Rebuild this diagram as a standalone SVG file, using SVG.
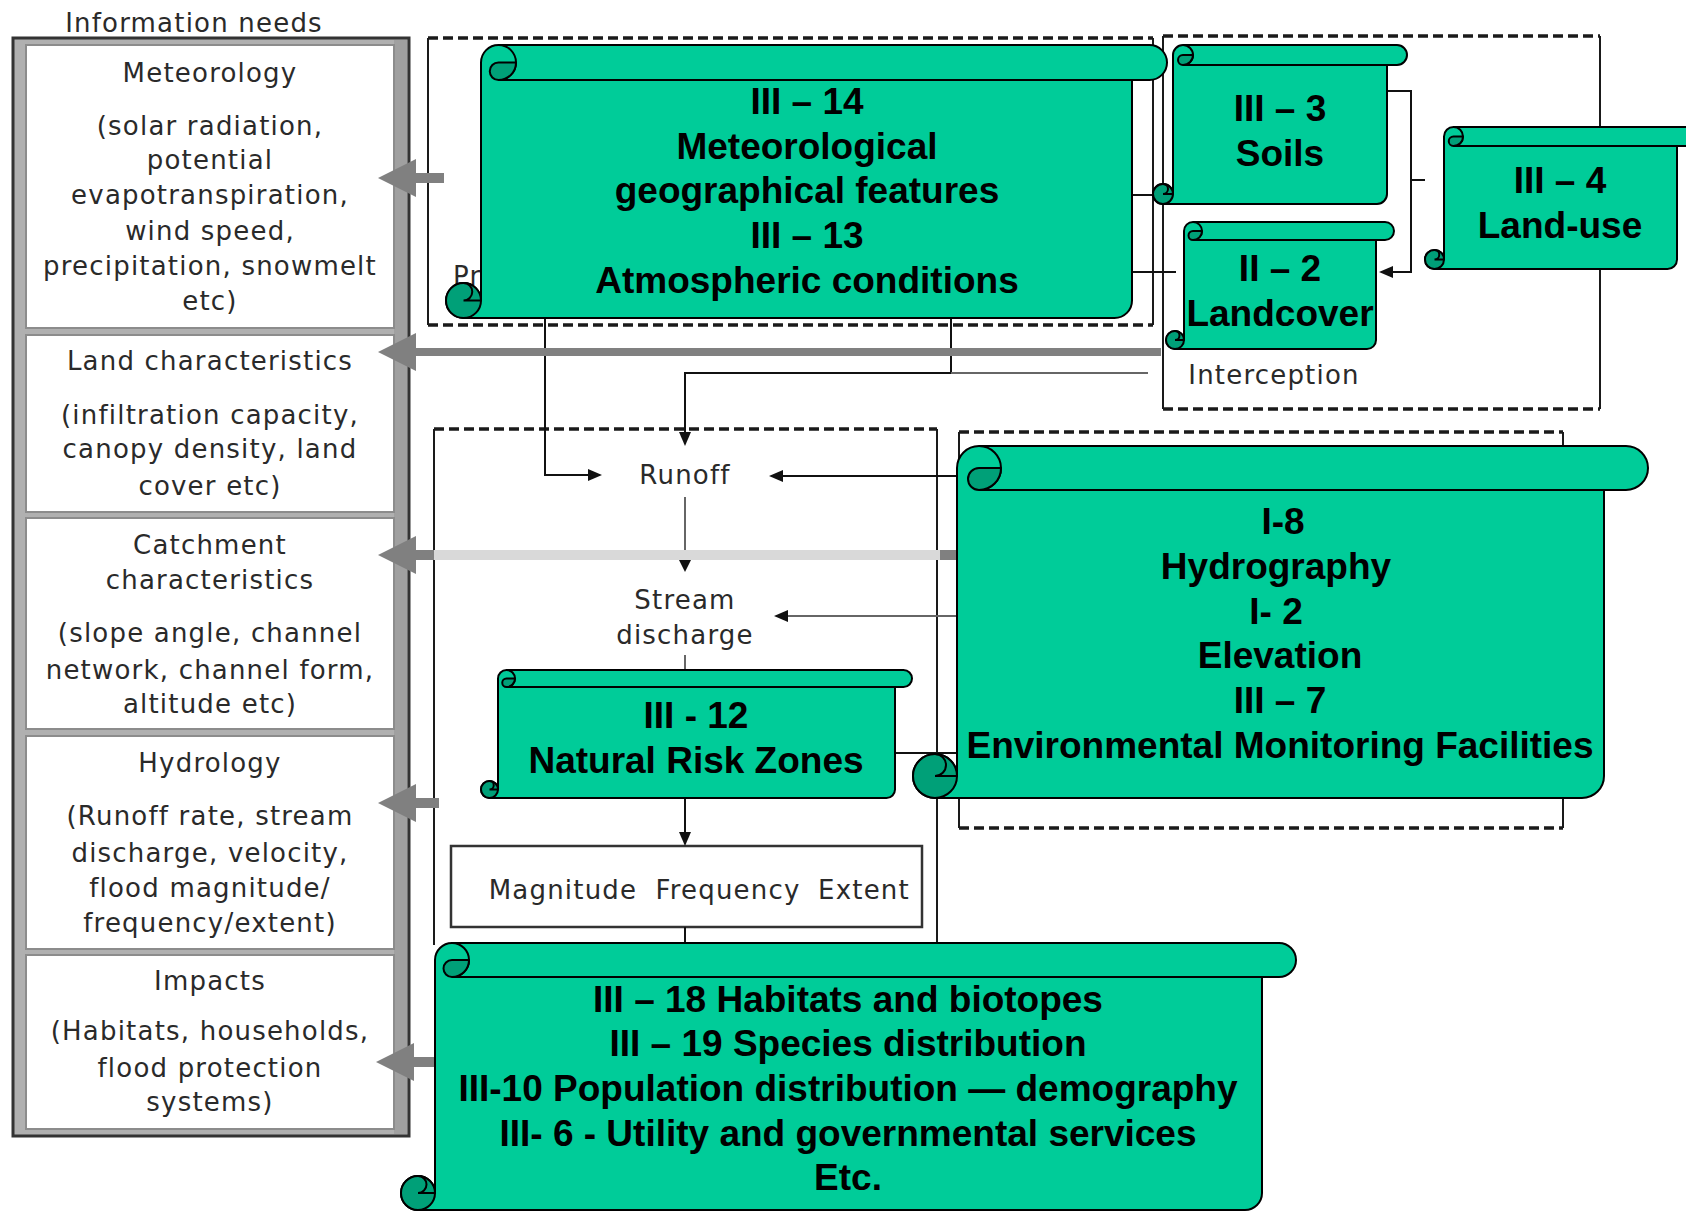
<svg xmlns="http://www.w3.org/2000/svg" width="1686" height="1211" viewBox="0 0 1686 1211">
<defs>
<style>
.pt{font-family:"DejaVu Sans","Verdana",sans-serif;font-size:26px;fill:#2a2a2a;text-anchor:middle;letter-spacing:1.2px}
.st{font-family:"Liberation Sans",Arial,sans-serif;font-size:37px;font-weight:bold;fill:#000;text-anchor:middle}
.body{fill:#00CC99;stroke:#000;stroke-width:2;stroke-linejoin:round}
.ln{fill:none;stroke:#000;stroke-width:2}
.dk{fill:#00A078;stroke:#000;stroke-width:2;stroke-linejoin:round}
.dash{fill:none;stroke:#1a1a1a;stroke-width:3.5;stroke-dasharray:10 5}
.side{fill:none;stroke:#1a1a1a;stroke-width:2}
.con{fill:none;stroke:#111;stroke-width:2}
.gcon{fill:none;stroke:#666;stroke-width:2}
.ah{fill:#111}
.ga{fill:#808080}
.wb{fill:#fff;stroke:#8c8c8c;stroke-width:2}
</style>
</defs>
<rect width="1686" height="1211" fill="#fff"/>

<g id="info-needs">
<text class="pt" x="194" y="32">Information needs</text>
<rect x="13" y="38" width="396" height="1098" fill="#b0b0b0" stroke="#333" stroke-width="3"/>
<rect x="394" y="40" width="13" height="1094" fill="#a0a0a0"/>
</g>

<g id="meteorology">
<rect class="wb" x="26" y="45" width="368" height="283"/>
<text class="pt" x="210" y="82">Meteorology</text>
<text class="pt" x="210" y="135">(solar radiation,</text>
<text class="pt" x="210" y="169">potential</text>
<text class="pt" x="210" y="204">evapotranspiration,</text>
<text class="pt" x="210" y="240">wind speed,</text>
<text class="pt" x="210" y="275">precipitation, snowmelt</text>
<text class="pt" x="210" y="310">etc)</text>
</g>

<g id="land-characteristics">
<rect class="wb" x="26" y="335" width="368" height="177"/>
<text class="pt" x="210" y="370">Land characteristics</text>
<text class="pt" x="210" y="424">(infiltration capacity,</text>
<text class="pt" x="210" y="458">canopy density, land</text>
<text class="pt" x="210" y="495">cover etc)</text>
</g>

<g id="catchment-characteristics">
<rect class="wb" x="26" y="518" width="368" height="211"/>
<text class="pt" x="210" y="554">Catchment</text>
<text class="pt" x="210" y="589">characteristics</text>
<text class="pt" x="210" y="642">(slope angle, channel</text>
<text class="pt" x="210" y="679">network, channel form,</text>
<text class="pt" x="210" y="713">altitude etc)</text>
</g>

<g id="hydrology">
<rect class="wb" x="26" y="736" width="368" height="213"/>
<text class="pt" x="210" y="772">Hydrology</text>
<text class="pt" x="210" y="825">(Runoff rate, stream</text>
<text class="pt" x="210" y="862">discharge, velocity,</text>
<text class="pt" x="210" y="897">flood magnitude/</text>
<text class="pt" x="210" y="932">frequency/extent)</text>
</g>

<g id="impacts">
<rect class="wb" x="26" y="955" width="368" height="174"/>
<text class="pt" x="210" y="990">Impacts</text>
<text class="pt" x="210" y="1040">(Habitats, households,</text>
<text class="pt" x="210" y="1077">flood protection</text>
<text class="pt" x="210" y="1111">systems)</text>
</g>

<g id="group-boxes">
<path class="dash" d="M428,38 H1153 M428,325 H1153"/>
<path class="side" d="M428,38 V325 M1153,38 V325"/>
<path class="dash" d="M1163,36 H1600 M1163,409 H1600"/>
<path class="side" d="M1163,36 V409 M1600,36 V409"/>
<path class="dash" d="M434,429 H937"/>
<path class="side" d="M434,429 V945 M937,429 V945"/>
<path class="dash" d="M959,432 H1563 M959,828 H1563"/>
<path class="side" d="M959,432 V828 M1563,432 V828"/>
</g>

<g id="process-labels">
<text class="pt" x="453" y="285" style="text-anchor:start">Pr</text>
<text class="pt" x="1274" y="384">Interception</text>
<text class="pt" x="685" y="484">Runoff</text>
<text class="pt" x="685" y="609">Stream</text>
<text class="pt" x="685" y="644">discharge</text>
</g>

<g id="magnitude-box">
<rect x="451" y="846" width="471" height="81" fill="#fff" stroke="#333" stroke-width="2.5"/>
<text class="pt" x="563" y="899">Magnitude</text>
<text class="pt" x="728" y="899">Frequency</text>
<text class="pt" x="864" y="899">Extent</text>
</g>

<g id="connectors">
<path class="con" d="M545,318 V475 H590"/>
<polygon class="ah" points="602,475 588,469 588,481"/>
<path class="con" d="M951,318 V373 H685 V434"/>
<polygon class="ah" points="685,446 679,432 691,432"/>
<path class="gcon" d="M951,373 H1148"/>
<path class="con" d="M957,476 H781"/>
<polygon class="ah" points="769,476 783,470 783,482"/>
<path class="gcon" d="M685,497 V560"/>
<polygon class="ah" points="685,572 679,560 691,560"/>
<path class="gcon" d="M957,616 H786"/>
<polygon class="ah" points="774,616 788,610 788,622"/>
<path class="gcon" d="M685,655 V672"/>
<path class="con" d="M685,798 V834"/>
<polygon class="ah" points="685,846 679,832 691,832"/>
<path class="con" d="M895,753 H957"/>
<path class="con" d="M685,927 V945"/>
<path class="con" d="M1387,91 H1411 V272 H1391"/>
<polygon class="ah" points="1379,272 1393,266 1393,278"/>
<path class="con" d="M1425,180 H1411"/>
<path class="con" d="M1132,195 H1163"/>
<path class="con" d="M1132,272 H1176"/>
</g>

<g id="info-arrows">
<rect class="ga" x="412" y="173" width="32" height="10"/>
<polygon class="ga" points="378,178 416,159 416,197"/>
<rect class="ga" x="412" y="348" width="749" height="8"/>
<polygon class="ga" points="378,352 416,333 416,371"/>
<rect x="432" y="550" width="508" height="10" fill="#d9d9d9"/>
<rect class="ga" x="412" y="550" width="22" height="10"/>
<rect class="ga" x="940" y="550" width="17" height="10"/>
<polygon class="ga" points="378,555 416,536 416,574"/>
<rect class="ga" x="412" y="798" width="27" height="10"/>
<polygon class="ga" points="378,803 416,784 416,822"/>
<rect class="ga" x="412" y="1057" width="24" height="10"/>
<polygon class="ga" points="376,1062 414,1043 414,1081"/>
</g>

<g id="scroll-III-14">
<path class="body" d="M481,62.5 A17.5,17.5 0 0 1 498.5,45 L1149.5,45 A17.5,17.5 0 0 1 1149.5,80 L1132,80 L1132,300.5 A17.5,17.5 0 0 1 1114.5,318 L463.5,318 A17.5,17.5 0 0 1 463.5,283 A17.5,17.5 0 0 1 481,300.5 Z"/>
<path class="ln" d="M498.5,80 L1132,80 M498.5,45 A17.5,17.5 0 0 1 498.5,80"/>
<path class="dk" d="M498.5,62.5 L516,62.5 A17.5,17.5 0 0 1 498.5,80 A8.75,8.75 0 0 1 498.5,62.5 Z"/>
<circle class="dk" cx="463.5" cy="300.5" r="17.5"/>
<path class="ln" d="M463.5,283 A8.75,8.75 0 0 1 463.5,300.5 L481,300.5"/>
<text class="st" x="807" y="114">III – 14</text>
<text class="st" x="807" y="159">Meteorological</text>
<text class="st" x="807" y="203">geographical features</text>
<text class="st" x="807" y="248">III – 13</text>
<text class="st" x="807" y="293">Atmospheric conditions</text>
</g>

<g id="scroll-III-3">
<path class="body" d="M1173,55 A10,10 0 0 1 1183,45 L1397,45 A10,10 0 0 1 1397,65 L1387,65 L1387,194 A10,10 0 0 1 1377,204 L1163,204 A10,10 0 0 1 1163,184 A10,10 0 0 1 1173,194 Z"/>
<path class="ln" d="M1183,65 L1387,65 M1183,45 A10,10 0 0 1 1183,65"/>
<path class="dk" d="M1183,55 L1193,55 A10,10 0 0 1 1183,65 A5,5 0 0 1 1183,55 Z"/>
<circle class="dk" cx="1163" cy="194" r="10"/>
<path class="ln" d="M1163,184 A5,5 0 0 1 1163,194 L1173,194"/>
<text class="st" x="1280" y="121">III – 3</text>
<text class="st" x="1280" y="166">Soils</text>
</g>

<g id="scroll-III-4">
<path class="body" d="M1444,136.5 A9.5,9.5 0 0 1 1453.5,127 L1686.5,127 A9.5,9.5 0 0 1 1686.5,146 L1677,146 L1677,259.5 A9.5,9.5 0 0 1 1667.5,269 L1434.5,269 A9.5,9.5 0 0 1 1434.5,250 A9.5,9.5 0 0 1 1444,259.5 Z"/>
<path class="ln" d="M1453.5,146 L1677,146 M1453.5,127 A9.5,9.5 0 0 1 1453.5,146"/>
<path class="dk" d="M1453.5,136.5 L1463,136.5 A9.5,9.5 0 0 1 1453.5,146 A4.75,4.75 0 0 1 1453.5,136.5 Z"/>
<circle class="dk" cx="1434.5" cy="259.5" r="9.5"/>
<path class="ln" d="M1434.5,250 A4.75,4.75 0 0 1 1434.5,259.5 L1444,259.5"/>
<text class="st" x="1560" y="193">III – 4</text>
<text class="st" x="1560" y="238">Land-use</text>
</g>

<g id="scroll-II-2">
<path class="body" d="M1184,231 A9,9 0 0 1 1193,222 L1385,222 A9,9 0 0 1 1385,240 L1376,240 L1376,340 A9,9 0 0 1 1367,349 L1175,349 A9,9 0 0 1 1175,331 A9,9 0 0 1 1184,340 Z"/>
<path class="ln" d="M1193,240 L1376,240 M1193,222 A9,9 0 0 1 1193,240"/>
<path class="dk" d="M1193,231 L1202,231 A9,9 0 0 1 1193,240 A4.5,4.5 0 0 1 1193,231 Z"/>
<circle class="dk" cx="1175" cy="340" r="9"/>
<path class="ln" d="M1175,331 A4.5,4.5 0 0 1 1175,340 L1184,340"/>
<text class="st" x="1280" y="281">II – 2</text>
<text class="st" x="1280" y="326">Landcover</text>
</g>

<g id="scroll-I-8">
<path class="body" d="M957,468 A22,22 0 0 1 979,446 L1626,446 A22,22 0 0 1 1626,490 L1604,490 L1604,776 A22,22 0 0 1 1582,798 L935,798 A22,22 0 0 1 935,754 A22,22 0 0 1 957,776 Z"/>
<path class="ln" d="M979,490 L1604,490 M979,446 A22,22 0 0 1 979,490"/>
<path class="dk" d="M979,468 L1001,468 A22,22 0 0 1 979,490 A11,11 0 0 1 979,468 Z"/>
<circle class="dk" cx="935" cy="776" r="22"/>
<path class="ln" d="M935,754 A11,11 0 0 1 935,776 L957,776"/>
<text class="st" x="1283" y="534">I-8</text>
<text class="st" x="1276" y="579">Hydrography</text>
<text class="st" x="1276" y="624">I- 2</text>
<text class="st" x="1280" y="668">Elevation</text>
<text class="st" x="1280" y="713">III – 7</text>
<text class="st" x="1280" y="758">Environmental Monitoring Facilities</text>
</g>

<g id="scroll-III-12">
<path class="body" d="M498,678.5 A8.5,8.5 0 0 1 506.5,670 L903.5,670 A8.5,8.5 0 0 1 903.5,687 L895,687 L895,789.5 A8.5,8.5 0 0 1 886.5,798 L489.5,798 A8.5,8.5 0 0 1 489.5,781 A8.5,8.5 0 0 1 498,789.5 Z"/>
<path class="ln" d="M506.5,687 L895,687 M506.5,670 A8.5,8.5 0 0 1 506.5,687"/>
<path class="dk" d="M506.5,678.5 L515,678.5 A8.5,8.5 0 0 1 506.5,687 A4.25,4.25 0 0 1 506.5,678.5 Z"/>
<circle class="dk" cx="489.5" cy="789.5" r="8.5"/>
<path class="ln" d="M489.5,781 A4.25,4.25 0 0 1 489.5,789.5 L498,789.5"/>
<text class="st" x="696" y="728">III - 12</text>
<text class="st" x="696" y="773">Natural Risk Zones</text>
</g>

<g id="scroll-impacts-themes">
<path class="body" d="M435,960 A17,17 0 0 1 452,943 L1279,943 A17,17 0 0 1 1279,977 L1262,977 L1262,1193 A17,17 0 0 1 1245,1210 L418,1210 A17,17 0 0 1 418,1176 A17,17 0 0 1 435,1193 Z"/>
<path class="ln" d="M452,977 L1262,977 M452,943 A17,17 0 0 1 452,977"/>
<path class="dk" d="M452,960 L469,960 A17,17 0 0 1 452,977 A8.5,8.5 0 0 1 452,960 Z"/>
<circle class="dk" cx="418" cy="1193" r="17"/>
<path class="ln" d="M418,1176 A8.5,8.5 0 0 1 418,1193 L435,1193"/>
<text class="st" x="848" y="1012">III – 18 Habitats and biotopes</text>
<text class="st" x="848" y="1056">III – 19 Species distribution</text>
<text class="st" x="848" y="1101">III-10 Population distribution — demography</text>
<text class="st" x="848" y="1146">III- 6 - Utility and governmental services</text>
<text class="st" x="848" y="1190">Etc.</text>
</g>
</svg>
